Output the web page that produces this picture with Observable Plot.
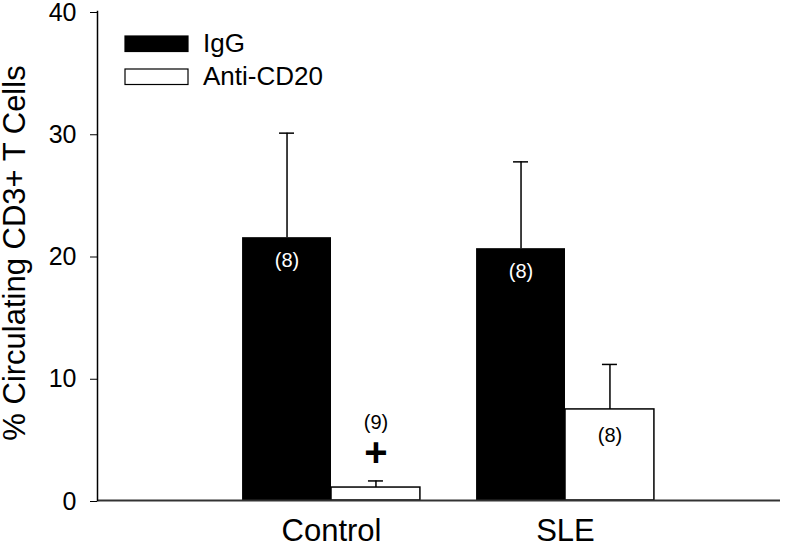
<!DOCTYPE html>
<html><head><meta charset="utf-8">
<script src="https://cdn.jsdelivr.net/npm/d3@7"></script>
<script src="https://cdn.jsdelivr.net/npm/@observablehq/plot@0.6"></script>
<style>body{margin:0;background:#fff;} svg{display:block;}</style>
</head><body><div id="chart"></div>
<script>
const groups = ["Control", "Control", "SLE", "SLE"];
const treatments = ["IgG", "Anti-CD20", "IgG", "Anti-CD20"];
const means = [21.5, 1.06, 20.6, 7.45];
const sems = [8.55, 0.54, 7.1, 3.68];
const nLabels = ["(8)", "(9)", "(8)", "(8)"];
const sigLabels = ["", "+", "", ""];
const groupOrder = ["Control", "SLE"];
const treatmentOrder = ["IgG", "Anti-CD20"];
const treatmentFill = ["#000000", "#ffffff"];
const yTicks = [0, 10, 20, 30, 40];
const yLabel = "% Circulating CD3+ T Cells";

const data = groups.map((g, i) => ({
  group: g, treatment: treatments[i], mean: means[i], top: means[i] + sems[i],
  n: nLabels[i], sig: sigLabels[i]
}));

const W = 800, H = 547, mL = 97, mR = 20, mT = 11, mB = 47;
const pIn = 0.24, pOut = 0.5794, align = 0.535;
const step = (W - mL - mR) / (groupOrder.length - pIn + 2 * pOut);
const bw = step * (1 - pIn);
const half = bw / 2, q = bw / 4, cap = 7.5;
const igg = data.filter(d => d.treatment === treatmentOrder[0]);
const anti = data.filter(d => d.treatment === treatmentOrder[1]);
const font = "'Liberation Sans', Arial, Helvetica, sans-serif";

const plot = Plot.plot({
  width: W, height: H,
  marginLeft: mL, marginRight: mR, marginTop: mT, marginBottom: mB,
  style: {fontFamily: font, color: "black", background: "white"},
  x: {domain: groupOrder, paddingInner: pIn, paddingOuter: pOut, align, round: false, label: null},
  y: {domain: [0, 40], label: null},
  marks: [
    Plot.barY(igg, {x: "group", y: "mean", fill: treatmentFill[0], insetRight: half}),
    Plot.barY(anti, {x: "group", y: "mean", fill: treatmentFill[1], stroke: "black", strokeWidth: 1.5, insetLeft: half}),
    Plot.ruleX(igg, {x: "group", y1: "mean", y2: "top", dx: -q, stroke: "black", strokeWidth: 1.5}),
    Plot.ruleX(anti, {x: "group", y1: "mean", y2: "top", dx: q, stroke: "black", strokeWidth: 1.5}),
    Plot.tickY(igg, {x: "group", y: "top", insetLeft: q - cap, insetRight: bw - q - cap, stroke: "black", strokeWidth: 1.5}),
    Plot.tickY(anti, {x: "group", y: "top", insetLeft: 3 * q - cap, insetRight: q - cap, stroke: "black", strokeWidth: 1.5}),
    // n labels
    Plot.text(igg, {x: "group", y: "mean", text: "n", dx: -q, dy: 23, fill: "white", fontSize: 20}),
    Plot.text(anti.filter(d => d.mean > 5), {x: "group", y: "mean", text: "n", dx: q, dy: 26, fill: "black", fontSize: 20}),
    Plot.text(anti.filter(d => d.mean <= 5), {x: "group", y: "top", text: "n", dx: q, dy: -58, fill: "black", fontSize: 20}),
    Plot.text(data.filter(d => d.sig), {x: "group", y: "top", text: "sig", dx: q, dy: -28, fill: "black", fontSize: 40, fontWeight: "bold"}),
    Plot.ruleY([0], {stroke: "#333", strokeWidth: 2}),
    Plot.frame({anchor: "left", stroke: "black", strokeWidth: 1.5}),
    Plot.axisY({ticks: yTicks, tickSize: 7, tickPadding: 14, fontSize: 25, dy: 1, label: null, tickFormat: d => String(d)}),
    Plot.axisX({tickSize: 0, tickPadding: 18, fontSize: 31, label: null}),
    Plot.text([yLabel], {frameAnchor: "left", textAnchor: "middle", rotate: -90, dx: -82, dy: -3, fontSize: 31, text: d => d})
  ]
});

// legend
const svg = d3.select(plot);
const lg = svg.append("g").attr("font-family", font).attr("text-anchor", "start");
treatmentOrder.forEach((t, i) => {
  const y0 = 36 + i * 33;
  lg.append("rect").attr("x", 125).attr("y", y0).attr("width", 63).attr("height", 15.5)
    .attr("fill", treatmentFill[i]).attr("stroke", "black").attr("stroke-width", 1.2);
  lg.append("text").attr("x", 203).attr("y", y0 + 16).attr("font-size", 26).attr("fill", "black").text(t);
});
document.getElementById("chart").appendChild(plot);
</script>
</body></html>
